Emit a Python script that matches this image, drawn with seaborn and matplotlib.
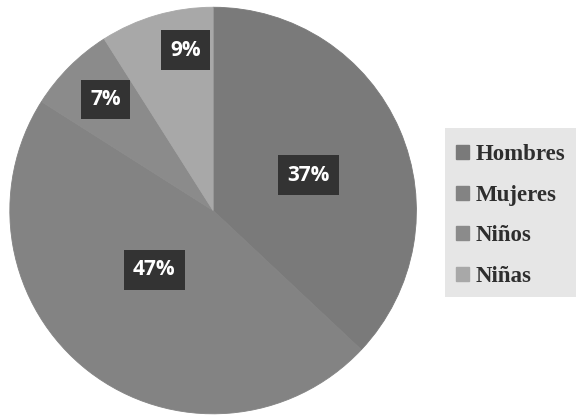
import matplotlib
matplotlib.use("Agg")
import matplotlib.pyplot as plt
import matplotlib.patches as mpatches
import seaborn as sns
import numpy as np

categories = ["Hombres", "Mujeres", "Niños", "Niñas"]
values = [37, 47, 7, 9]
labels = ["37%", "47%", "7%", "9%"]

sns.set_theme(style="white")
colors = ["#7a7a7a", "#838383", "#8b8b8b", "#a8a8a8"]

fig = plt.figure(figsize=(5.76, 4.17), dpi=100)
ax = fig.add_axes([0.01, 0.0, 0.72, 1.0])

wedges, _ = ax.pie(values, colors=colors, startangle=90, counterclock=False,
                   radius=1.0, wedgeprops=dict(linewidth=0.6))
for w, c in zip(wedges, colors):
    w.set_edgecolor(c)
ax.set_aspect("equal")
ax.set_xlim(-1.02, 1.02)
ax.set_ylim(-1.0, 1.02)

# label boxes: distance from centre and small angle shift per slice
label_r = [0.5, 0.41, 0.76, 0.80]
label_shift = [-3, -7, -1, -6.5]
for w, lab, r, s in zip(wedges, labels, label_r, label_shift):
    ang = np.deg2rad((w.theta1 + w.theta2) / 2 + s)
    ax.text(r * np.cos(ang), r * np.sin(ang), lab, ha="center", va="center",
            fontsize=15, fontweight="bold", color="white", family="Open Sans",
            bbox=dict(boxstyle="square,pad=0.45", facecolor="#333333", edgecolor="none"))

# speckled light panel behind the legend
fig.patches.append(mpatches.Rectangle((445 / 576, 1 - 297 / 417), 131 / 576, 169 / 417,
                                      transform=fig.transFigure, facecolor="#e6e6e6",
                                      edgecolor="none", zorder=0))

handles = [mpatches.Patch(color=c) for c in colors]
leg = fig.legend(handles, categories, loc="center left", bbox_to_anchor=(0.772, 0.483),
                 frameon=False, handlelength=0.55, handleheight=0.55, labelspacing=0.86,
                 handletextpad=0.3, borderpad=0.0,
                 prop=dict(family="Liberation Serif", weight="bold", size=16.5))
for t in leg.get_texts():
    t.set_color("#2e2e2e")

fig.savefig("out.png", dpi=100, facecolor="white")
